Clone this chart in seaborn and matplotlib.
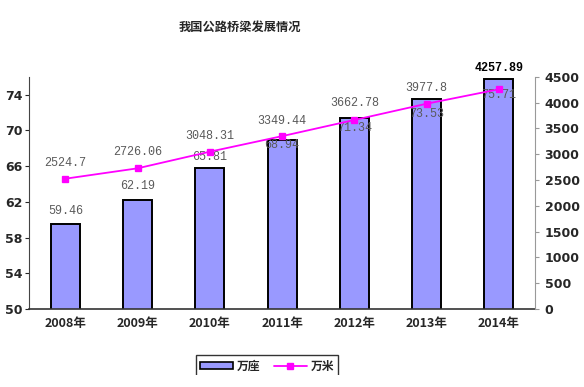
import numpy as np
import pandas as pd
import matplotlib
matplotlib.use("Agg")
import matplotlib.pyplot as plt
import seaborn as sns
from matplotlib.patches import Patch, Rectangle
from matplotlib.lines import Line2D

# Data
years = ['2008年', '2009年', '2010年', '2011年', '2012年', '2013年', '2014年']
bridges_wan_zuo = [59.46, 62.19, 65.81, 68.94, 71.34, 73.53, 75.71]
bridges_wan_mi = [2524.7, 2726.06, 3048.31, 3349.44, 3662.78, 3977.8, 4257.89]
bar_labels = ['59.46', '62.19', '65.81', '68.94', '71.34', '73.53', '75.71']
line_labels = ['2524.7', '2726.06', '3048.31', '3349.44', '3662.78', '3977.8', '4257.89']

# label offsets (points) as in the original, bar labels pushed down where crowded
bar_label_dy = [10, 10, 8, -3.6, -7.2, -10.8, -11.5]
line_label_dy = [11, 11.5, 11.5, 11, 12, 11.5, 15.5]

df = pd.DataFrame({'year': years, 'zuo': bridges_wan_zuo, 'mi': bridges_wan_mi})

sns.set_style("white")
plt.rcParams['font.family'] = ['Noto Sans CJK SC', 'DejaVu Sans']

fig = plt.figure(figsize=(5.84, 3.87), dpi=100)
ax = fig.add_axes([0.050, 0.2016, 0.866, 0.600])

sns.barplot(data=df, x='year', y='zuo', ax=ax, color='#9999FF', saturation=1,
            width=0.4, edgecolor='black', linewidth=1.4)
ax.set_ylim(50, 76)
ax.set_xlim(-0.5, 6.5)
ax.set_yticks([50, 54, 58, 62, 66, 70, 74])
ax.set_xlabel('')
ax.set_ylabel('')

ax2 = ax.twinx()
sns.pointplot(data=df, x='year', y='mi', ax=ax2, color='#FF00FF', markers='s',
              markersize=4, linewidth=1.3)
ax2.set_ylim(0, 4500)
ax2.set_xlim(-0.5, 6.5)
ax2.set_yticks(np.arange(0, 4501, 500))
ax2.set_xlabel('')
ax2.set_ylabel('')

for a in (ax, ax2):
    a.spines['top'].set_visible(False)
ax.spines['right'].set_visible(False)
ax2.spines['left'].set_visible(False)
ax2.spines['bottom'].set_visible(False)
ax.spines['left'].set_color('#444444')
ax.spines['left'].set_linewidth(0.8)
ax.spines['bottom'].set_color('#333333')
ax.spines['bottom'].set_linewidth(1.2)
ax2.spines['right'].set_color('#999999')
ax2.spines['right'].set_linewidth(0.8)

ax.tick_params(axis='y', direction='out', length=3, width=0.8, pad=2)
ax2.tick_params(axis='y', direction='out', length=3, width=0.8, color='#999999', pad=4)
ax.tick_params(axis='x', length=0, pad=6)
ax.set_xticks(np.arange(-0.5, 7, 1), minor=True)
ax.tick_params(axis='x', which='minor', direction='out', length=4, width=0.8, color='#555555')

for lab in ax.get_yticklabels() + ax2.get_yticklabels():
    lab.set_fontweight('bold')
    lab.set_fontsize(9)
    lab.set_family(['DejaVu Sans'])
for lab in ax.get_xticklabels():
    lab.set_fontweight('bold')
    lab.set_fontsize(9)

# value labels
for i, (v, t, dy) in enumerate(zip(bridges_wan_zuo, bar_labels, bar_label_dy)):
    ax.annotate(t, (i, v), xytext=(0, dy), textcoords='offset points',
                ha='center', va='center', fontsize=8.5,
                family=['Liberation Mono'], color='#5a5a5a')
for i, (v, t, dy) in enumerate(zip(bridges_wan_mi, line_labels, line_label_dy)):
    last = i == len(line_labels) - 1
    ax2.annotate(t, (i, v), xytext=(0, dy), textcoords='offset points',
                 ha='center', va='center', fontsize=8.5,
                 family=['Liberation Mono'], color='black' if last else '#5a5a5a',
                 fontweight='bold' if last else 'normal')

fig.text(0.411, 0.93, '我国公路桥梁发展情况', ha='center', va='center',
         fontsize=8.8, fontweight='bold')

handles = [Patch(facecolor='#9999FF', edgecolor='black', linewidth=1.2),
           Line2D([0], [0], color='#FF00FF', marker='s', markersize=4, linewidth=1.3)]
leg = fig.legend(handles, ['万座', '万米'], loc='center', bbox_to_anchor=(0.457, 0.054),
                 ncol=2, frameon=True, fancybox=False, fontsize=8.5,
                 handlelength=2.8, handleheight=0.6, columnspacing=1.2, handletextpad=0.3,
                 borderpad=0.35)
leg.get_frame().set_edgecolor('black')
leg.get_frame().set_linewidth(1.0)
for t in leg.get_texts():
    t.set_fontweight('bold')

# the legend box is cut off at the bottom in the original
fig.patches.append(Rectangle((0, 0), 1, 12 / 387, transform=fig.transFigure,
                             facecolor='white', edgecolor='none', zorder=10))

fig.savefig('out.png', dpi=100)
